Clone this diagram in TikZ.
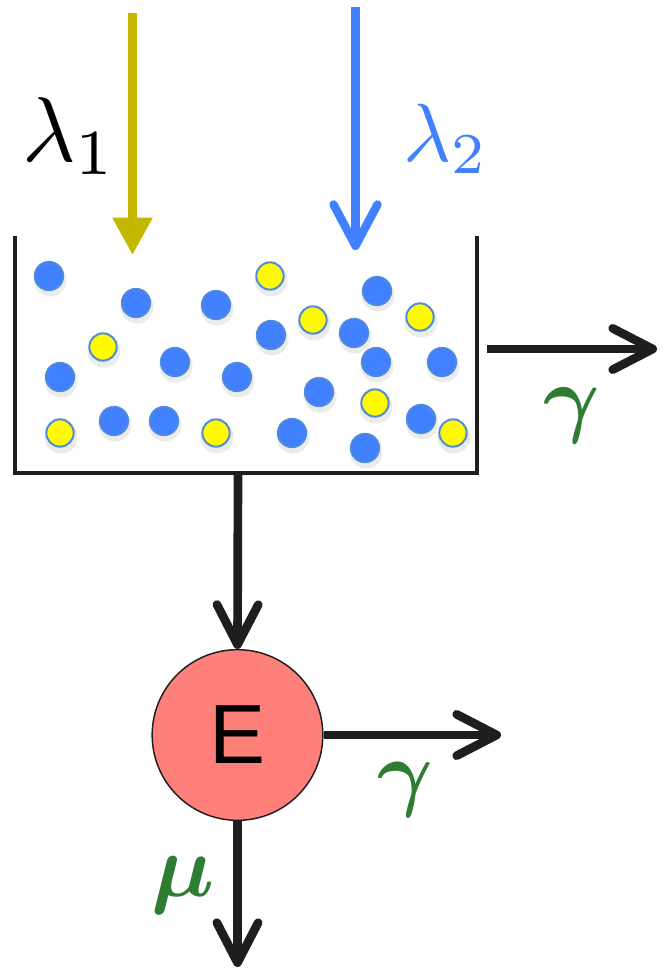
\documentclass[tikz,border=0pt]{standalone}
\usepackage{amsmath}
\usepackage{fontspec}
\newfontfamily\efont{Liberation Sans}
\usetikzlibrary{arrows.meta}
\definecolor{ink}{RGB}{30,30,30}
\definecolor{ballblue}{RGB}{65,128,255}
\definecolor{ringblue}{RGB}{80,140,215}
\definecolor{ballyellow}{RGB}{255,250,0}
\definecolor{olivearrow}{RGB}{196,184,0}
\definecolor{ratetext}{RGB}{46,125,50}
\definecolor{salmonfill}{RGB}{255,127,122}
\begin{document}
\begin{tikzpicture}[x=0.75pt,y=-0.75pt,
  wall/.style={draw=ink,line width=3pt,line join=miter},
  flow/.style={draw=ink,line width=6.5pt,-{Straight Barb[round,length=30pt,width=31pt]}},
  bball/.style={circle,inner sep=0pt,minimum size=21.5pt,fill=ballblue,draw=ringblue,line width=1.2pt},
  yball/.style={circle,inner sep=0pt,minimum size=20.5pt,fill=ballyellow,draw=ringblue,line width=1.5pt},
  rate/.style={inner sep=0pt,text=ratetext,font=\fontsize{10}{12}\selectfont},
  shadowdisk/.style={fill=black,opacity=0.08}
]
\useasboundingbox (0,0) rectangle (662,974);

% tank
\draw[wall] (15,236) -- (15,473) -- (477,473) -- (477,236);
\coordinate (tb) at (238,473);
\coordinate (tr) at (487,349);
\coordinate (trend) at (657,349);

% shadows of balls
\foreach \x/\y in {49/276,136/303,216/305,377/291,271/335,354/333,60/377,175/362,237/377,376/362,442/362,319/392,114/421,164/421,292/433,421/419,365/448,270/276,313/320,420/317,103/347,375/403,60/433,216/433,453/433}
  \fill[shadowdisk] ({\x+1},{\y+4}) circle (16.5);

% blue balls
\foreach \x/\y [count=\i] in {49/276,136/303,216/305,377/291,271/335,354/333,60/377,175/362,237/377,376/362,442/362,319/392,114/421,164/421,292/433,421/419,365/448}
  \node[bball] (b\i) at (\x,\y) {};
% yellow balls
\foreach \x/\y [count=\i] in {270/276,313/320,420/317,103/347,375/403,60/433,216/433,453/433}
  \node[yball] (y\i) at (\x,\y) {};

% inflows
\coordinate (ya) at (132.5,13);
\coordinate (yb) at (132.5,255);
\draw[olivearrow,line width=6.5pt,-{Triangle[length=28pt,width=28.5pt]}] (ya) -- (yb);
\coordinate (ba) at (355.5,7);
\coordinate (bb) at (355.5,250);
\draw[ballblue,line width=6.3pt,-{Straight Barb[round,length=31pt,width=33pt]}] (ba) -- (bb);

\node[anchor=base west,inner sep=0pt,font=\fontsize{10}{12}\selectfont] (l1) at (22,161) {\scalebox{6.9}{$\lambda_1$}};
\node[anchor=base west,inner sep=0pt,text=ballblue,font=\fontsize{10}{12}\selectfont] (l2) at (403,161) {\scalebox{6.2}{$\lambda_2$}};

% outflow from tank
\draw[flow] (tr) -- (trend);
\node[rate] (g1) at (572,416) {\scalebox{6.5}{$\boldsymbol{\gamma}$}};

% E compartment
\node[circle,inner sep=0pt,minimum size=128pt,fill=salmonfill,draw=ink,line width=1.1pt,font=\efont\fontsize{63}{66}\selectfont] (E) at (237.5,735) {E};
\coordinate (eo) at (501,735);
\coordinate (ed) at (237.5,967);
\draw[flow] (tb) -- (E.north);
\draw[flow] (E.east) -- (eo);
\draw[flow] (E.south) -- (ed);
\node[rate] (g2) at (405,790) {\scalebox{6.4}{$\boldsymbol{\gamma}$}};
\node[rate] (mu) at (183,885) {\scalebox{6.7}{$\boldsymbol{\mu}$}};
\end{tikzpicture}
\end{document}
